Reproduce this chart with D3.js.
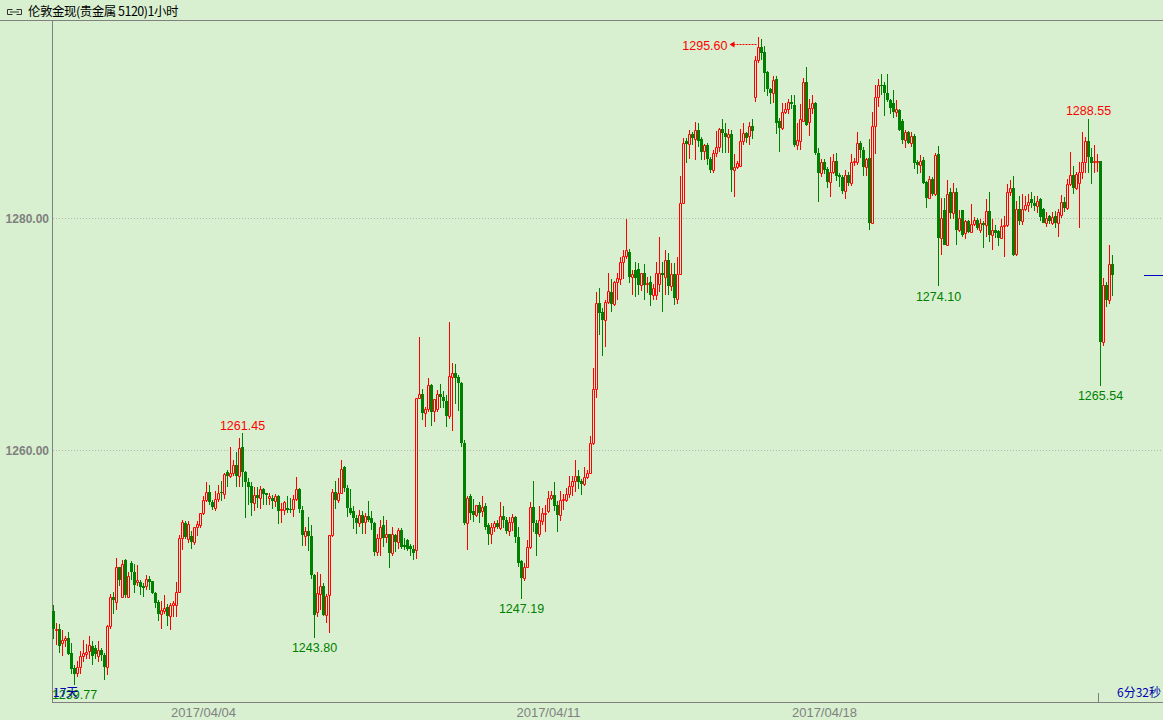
<!DOCTYPE html>
<html><head><meta charset="utf-8">
<script src="https://cdn.jsdelivr.net/npm/d3@7"></script>
<style>
html,body{margin:0;padding:0;background:#d8f0d0;overflow:hidden;}
svg{display:block;}
</style></head><body>
<svg id="chart" width="1163" height="720"></svg>
<script>
// ---------- DATA (1-hour OHLC, London Gold) ----------
const opens = [
1246.1,1244.5,1244.6,1243.4,1243.6,1243.8,1242.5,1241.2,1240.8,1241.3,
1242.2,1242.4,1242.7,1243.1,1242.9,1242.2,1242.8,1242.3,1241.3,1244.8,
1247.3,1246.9,1249.9,1247.3,1250.5,1247.3,1250.3,1249.5,1248.6,1248.6,
1248.3,1248.3,1248.9,1248.7,1247.7,1246.9,1245.9,1246.1,1246.5,1245.7,
1246.6,1246.6,1247.8,1252.4,1253.7,1252.3,1252.6,1252.1,1253.4,
1253.5,1254.6,1255.7,1256.4,1255.5,1255.0,1255.8,1256.4,1256.2,1258.1,
1257.8,1258.0,1258.7,1257.8,1260.3,1258.1,1257.2,1256.9,1255.4,1256.1,
1255.9,1256.6,1256.3,1255.9,1255.9,1255.6,1256.0,1254.8,1254.8,1255.0,
1254.9,1254.9,1255.8,1256.6,1254.8,1252.6,1253.0,1252.6,1249.2,1246.0,
1247.6,1248.3,1245.8,1247.5,1252.7,1256.4,1255.7,1256.3,1258.5,
1256.7,1255.0,1254.7,1254.1,1253.7,1254.4,1253.8,1254.3,1254.1,1253.7,
1251.2,1252.4,1253.5,1252.5,1252.8,1251.1,1252.7,1252.1,1253.1,1251.8,
1252.2,1251.7,1251.5,1251.4,1264.5,1264.8,1263.2,1263.5,1265.6,1263.4,
1263.5,1264.8,1264.6,1264.2,1262.9,1266.3,1266.6,1266.3,1265.8,1260.6,
1253.7,1256.0,1254.7,1254.4,1255.3,1254.7,1255.2,1253.5,
1252.8,1253.4,1253.7,1253.3,1254.3,1254.0,1253.0,1253.8,1254.2,1252.5,
1250.4,1249.0,1249.9,1251.6,1255.1,1253.7,1252.8,1253.9,1254.5,1254.7,
1255.9,1256.1,1255.3,1254.4,1255.7,1255.7,1256.2,1256.9,1257.3,1257.8,
1257.3,1257.1,1257.7,1258.0,1260.6,1265.3,1272.7,1271.9,1271.2,1272.8,
1273.6,1272.6,1274.5,1274.7,1276.2,1276.7,1277.1,
1274.9,1275.5,1275.6,1274.2,1275.3,1274.3,1274.5,1273.4,1273.4,1274.3,
1275.3,1274.9,1276.4,1274.1,1275.2,1273.0,1275.2,1281.3,1286.6,1286.4,
1287.2,1286.8,1287.6,1286.8,1285.8,1286.3,1285.1,1284.1,1285.6,1286.1,
1287.7,1287.3,1287.0,1287.2,1284.1,1284.4,1284.5,1286.6,1287.3,1287.1,
1287.9,1290.4,1293.6,1294.7,1294.3,1292.6,
1291.1,1290.8,1292.0,1288.4,1287.8,1289.1,1289.4,1290.0,1289.7,1286.3,
1286.6,1288.4,1291.7,1288.3,1289.5,1289.9,1285.6,1283.9,1284.8,1284.2,
1283.1,1284.0,1284.9,1283.7,1283.5,1282.3,1283.7,1283.0,1284.8,1284.8,
1286.5,1285.9,1284.4,1285.2,1279.6,1287.9,1290.4,1291.5,1291.5,1290.8,
1290.2,1289.9,1289.1,1289.3,1288.4,1286.7,1287.4,
1286.5,1287.1,1284.8,1284.6,1285.0,1283.1,1281.7,1283.4,1282.1,1285.5,
1278.3,1280.7,1277.7,1282.2,1280.4,1282.2,1279.0,1280.7,1278.7,1279.7,
1278.8,1279.5,1279.8,1279.0,1279.6,1279.4,1280.6,1278.5,1279.0,1278.9,
1278.3,1279.3,1279.4,1282.2,1282.6,1276.9,1280.8,1279.7,1280.8,1281.1,
1281.6,1281.3,1281.0,1281.6,1280.8,1279.6,1280.2,
1279.6,1280.2,1279.6,1280.3,1281.4,1280.9,1282.9,1283.7,1282.6,1283.0,
1284.0,1284.8,1286.6,1285.3,1284.8,1284.8,1284.9,1269.3,1274.2,1272.9,1276.0
];
const highs = [
1246.6,1245.1,1245.0,1244.5,1244.0,1244.3,1243.4,1241.5,1241.8,1242.7,
1243.6,1243.3,1244.0,1243.5,1243.2,1243.5,1242.9,1242.5,1244.9,1247.6,
1247.8,1250.7,1249.9,1250.5,1250.6,1249.5,1250.4,1250.2,1250.1,1248.8,
1248.5,1249.2,1249.1,1248.7,1247.8,1247.1,1247.0,1247.5,1246.7,1246.8,
1247.0,1248.6,1252.7,1254.0,1253.9,1253.9,1253.0,1253.4,1253.9,
1254.6,1256.0,1257.2,1257.0,1255.7,1256.5,1257.0,1257.3,1258.0,1258.3,
1260.3,1259.1,1259.8,1261.0,1261.45,1258.2,1257.6,1257.2,1256.8,1256.8,
1256.9,1256.7,1256.3,1256.3,1256.1,1256.2,1256.1,1255.4,1255.6,1256.0,
1255.9,1256.1,1257.7,1256.7,1255.2,1253.4,1254.2,1253.5,1249.3,1249.5,
1249.3,1248.5,1247.6,1252.7,1256.6,1257.3,1257.6,1259.1,1258.6,
1257.0,1256.6,1255.2,1254.4,1254.8,1254.7,1254.6,1255.6,1254.7,1253.8,
1252.8,1254.0,1254.3,1254.0,1252.8,1253.4,1252.8,1253.3,1253.3,1252.4,
1252.3,1251.9,1251.8,1264.5,1269.7,1265.3,1263.7,1266.2,1265.7,1264.4,
1265.2,1265.7,1265.1,1264.7,1271.0,1267.5,1267.4,1266.5,1265.9,1260.9,
1256.0,1256.2,1255.8,1255.3,1255.5,1256.0,1255.4,1253.7,
1253.7,1253.9,1254.0,1255.5,1255.2,1254.2,1254.2,1254.5,1254.3,1253.4,
1250.5,1250.3,1252.2,1255.5,1257.3,1254.0,1255.2,1255.0,1255.3,1256.5,
1256.5,1257.2,1255.6,1256.5,1256.2,1256.7,1257.8,1257.8,1259.1,1258.3,
1257.5,1258.5,1258.3,1261.2,1267.1,1273.6,1274.0,1272.2,1272.9,1275.3,
1274.7,1274.6,1275.3,1276.6,1277.2,1279.9,1277.3,
1275.5,1276.2,1276.1,1275.3,1276.0,1274.9,1275.0,1274.3,1276.2,1278.4,
1276.2,1277.2,1277.0,1276.1,1276.1,1276.6,1283.6,1286.9,1286.9,1287.6,
1287.4,1288.3,1288.2,1287.0,1286.4,1286.5,1285.3,1285.9,1287.5,1287.8,
1288.5,1288.2,1287.7,1287.6,1285.5,1284.9,1287.7,1288.2,1287.4,1288.3,
1288.5,1294.0,1295.60,1295.4,1294.8,1292.7,
1291.2,1292.2,1292.2,1288.6,1289.9,1289.9,1290.3,1290.6,1290.6,1288.2,
1289.8,1292.1,1293.0,1290.3,1290.6,1290.0,1286.0,1285.1,1285.1,1284.4,
1285.3,1285.5,1285.6,1283.9,1283.7,1284.1,1284.0,1285.5,1285.2,1287.4,
1286.6,1286.1,1285.2,1286.8,1289.1,1291.5,1292.0,1292.4,1291.7,1292.4,
1290.3,1291.0,1290.2,1289.4,1288.5,1287.6,1287.5,
1287.4,1287.2,1285.0,1285.4,1285.3,1283.2,1283.6,1283.5,1285.6,1286.2,
1281.7,1281.7,1283.3,1282.6,1283.0,1282.6,1280.7,1280.7,1279.8,1279.8,
1281.2,1280.1,1280.0,1279.9,1279.7,1281.6,1282.2,1279.9,1279.4,1279.0,
1279.9,1280.2,1282.9,1283.3,1283.6,1281.5,1281.9,1282.1,1281.9,1282.1,
1282.2,1281.9,1281.9,1281.7,1280.9,1280.5,1280.3,
1280.5,1280.6,1280.8,1282.0,1281.8,1283.4,1285.7,1284.5,1284.0,1284.8,
1287.4,1287.0,1288.55,1286.0,1286.3,1285.5,1284.9,1274.8,1274.5,1277.7,1276.8
];
const lows = [
1243.7,1243.2,1242.5,1242.2,1243.0,1242.3,1240.7,1239.77,1240.4,1240.7,
1241.7,1242.0,1242.0,1241.5,1242.0,1241.7,1241.8,1240.2,1240.6,1244.6,
1245.9,1246.2,1248.3,1247.2,1247.2,1247.2,1248.8,1247.7,1248.3,1247.5,
1247.3,1247.9,1247.9,1247.6,1246.4,1245.3,1244.6,1245.9,1244.8,1244.5,
1245.6,1245.6,1247.8,1251.4,1252.3,1252.0,1251.5,1251.8,1252.6,
1253.3,1254.4,1255.5,1255.3,1254.8,1254.7,1255.5,1255.6,1255.8,1256.8,
1257.6,1257.8,1256.8,1256.8,1256.8,1254.1,1255.3,1254.3,1254.7,1255.0,
1254.9,1255.3,1255.3,1255.3,1254.9,1255.1,1253.6,1253.7,1254.4,1254.6,
1254.6,1254.2,1255.6,1254.6,1251.7,1251.7,1251.3,1248.9,1243.80,1245.6,
1246.2,1245.7,1245.1,1244.2,1252.5,1254.9,1255.4,1256.2,1256.4,
1254.2,1254.4,1253.2,1252.8,1253.4,1252.8,1252.8,1253.8,1253.1,1250.9,
1250.9,1250.9,1251.6,1252.0,1249.8,1250.9,1251.2,1251.5,1251.5,1251.4,
1251.3,1250.9,1250.5,1250.6,1264.4,1262.6,1262.0,1263.3,1262.1,1262.4,
1263.3,1263.6,1263.6,1262.0,1262.7,1261.6,1264.0,1263.4,1260.3,1253.5,
1251.4,1254.0,1253.8,1254.2,1253.7,1254.2,1253.1,1251.8,
1251.9,1252.9,1253.2,1253.1,1253.3,1252.8,1252.6,1253.0,1252.0,1249.9,
1247.19,1248.7,1249.8,1251.5,1252.9,1250.9,1252.5,1253.5,1252.9,1254.6,
1255.7,1254.7,1252.9,1253.9,1254.8,1255.5,1255.9,1256.0,1256.4,1256.6,
1256.1,1256.9,1257.5,1257.9,1260.4,1264.5,1269.9,1268.1,1268.9,1272.6,
1271.9,1272.4,1272.9,1274.2,1274.7,1276.5,1274.4,
1273.4,1273.2,1273.4,1273.7,1272.9,1273.5,1272.4,1272.9,1272.9,1273.6,
1271.9,1273.4,1273.4,1273.7,1272.5,1272.6,1275.1,1281.2,1284.7,1285.1,
1286.3,1285.0,1286.1,1285.0,1285.0,1284.6,1283.9,1283.9,1285.3,1285.7,
1285.6,1285.6,1285.6,1282.2,1281.8,1284.2,1284.4,1286.3,1286.5,1286.3,
1286.8,1290.0,1293.4,1293.6,1290.9,1290.5,
1289.8,1289.9,1287.2,1285.7,1287.6,1289.0,1289.0,1289.4,1286.1,1285.9,
1285.9,1288.3,1287.9,1287.1,1289.0,1285.4,1281.4,1283.5,1283.8,1282.6,
1281.8,1283.8,1283.2,1282.7,1282.1,1281.6,1282.8,1282.8,1284.5,1284.6,
1285.2,1283.6,1283.6,1279.0,1279.5,1285.5,1289.6,1290.6,1288.8,1290.0,
1289.0,1288.6,1288.7,1287.5,1286.4,1286.0,1286.4,
1286.1,1284.2,1283.8,1283.9,1282.9,1280.9,1281.6,1281.9,1281.9,1274.10,
1276.8,1277.7,1277.7,1279.9,1279.9,1277.7,1278.8,1278.4,1278.2,1278.7,
1278.7,1279.3,1279.0,1278.7,1277.4,1278.4,1277.9,1277.2,1278.3,1277.6,
1278.2,1276.6,1279.2,1281.9,1276.7,1276.7,1279.4,1279.4,1280.6,1280.5,
1280.9,1280.6,1280.4,1279.7,1279.6,1279.2,1279.5,
1279.4,1279.1,1278.4,1280.0,1280.5,1280.7,1282.8,1282.1,1282.4,1279.1,
1283.4,1283.9,1283.9,1282.9,1283.9,1284.0,1265.54,1269.0,1272.3,1272.6,1273.3
];
const closes = [
1244.6,1244.6,1243.1,1243.6,1243.8,1242.4,1241.1,1240.7,1241.3,1242.2,
1242.5,1242.6,1243.2,1242.2,1242.4,1242.8,1242.3,1241.3,1244.8,1247.3,
1247.1,1249.9,1248.8,1250.2,1247.5,1249.1,1249.5,1248.4,1248.8,1248.2,
1248.1,1248.9,1248.6,1247.7,1246.8,1245.9,1246.2,1246.4,1245.7,1246.6,
1246.8,1247.8,1252.4,1253.8,1252.5,1253.6,1252.1,1253.4,1253.6,
1254.6,1255.7,1256.4,1255.5,1255.1,1255.8,1256.3,1256.3,1257.9,1257.8,
1258.0,1258.7,1257.8,1260.2,1258.1,1257.2,1256.8,1255.4,1256.1,1255.9,
1256.6,1256.2,1256.1,1256.0,1255.6,1256.0,1254.7,1254.9,1255.5,1254.8,
1254.8,1255.8,1256.6,1254.9,1252.7,1253.0,1252.6,1249.2,1245.8,1247.7,
1248.3,1245.8,1247.4,1252.7,1256.4,1255.7,1256.3,1258.4,1256.7,
1255.0,1254.6,1254.1,1253.7,1254.4,1253.7,1254.3,1254.0,1253.7,1251.2,
1252.4,1253.4,1252.4,1252.8,1251.1,1252.8,1252.1,1253.1,1251.6,1251.6,
1251.5,1251.5,1251.1,1264.5,1264.8,1263.2,1263.5,1265.6,1263.3,1264.4,
1264.8,1264.6,1264.2,1262.9,1266.4,1266.6,1266.2,1265.8,1260.6,1253.7,
1255.9,1254.6,1254.4,1255.3,1254.6,1255.1,1253.4,1252.8,
1253.4,1253.7,1253.4,1254.3,1254.0,1253.0,1253.8,1254.2,1252.5,1250.3,
1249.0,1249.9,1251.6,1255.1,1253.7,1252.8,1254.0,1254.6,1254.6,1255.9,
1256.1,1255.2,1254.4,1255.7,1255.8,1256.2,1256.9,1257.3,1257.8,1257.2,
1257.1,1257.7,1258.0,1260.6,1265.3,1272.7,1271.8,1271.2,1272.8,1273.7,
1272.6,1274.5,1274.8,1276.2,1276.7,1277.2,1274.9,
1275.2,1274.8,1274.2,1275.3,1274.2,1274.4,1273.4,1274.0,1275.3,1275.3,
1275.1,1276.4,1274.1,1275.2,1273.1,1275.2,1281.3,1286.5,1286.4,1287.2,
1286.9,1287.6,1286.6,1285.7,1286.3,1285.1,1284.1,1285.6,1286.1,1287.7,
1287.3,1287.0,1287.2,1284.1,1284.4,1284.7,1286.6,1287.3,1286.9,1287.9,
1287.5,1293.6,1294.7,1294.2,1292.5,1291.1,
1290.8,1291.9,1288.2,1287.8,1289.1,1289.4,1290.0,1289.8,1286.3,1286.7,
1288.5,1291.7,1288.0,1289.5,1289.9,1285.6,1283.9,1284.8,1284.1,1283.1,
1284.0,1284.9,1283.6,1283.5,1282.3,1283.7,1283.0,1284.8,1284.9,1286.5,
1285.9,1284.4,1285.1,1279.6,1287.9,1290.4,1291.5,1291.4,1290.8,1290.2,
1289.5,1289.1,1289.4,1287.6,1286.7,1287.4,1286.5,
1287.1,1284.7,1284.6,1284.9,1283.0,1281.7,1283.4,1282.1,1285.4,1278.3,
1280.0,1277.7,1282.1,1280.4,1282.2,1279.0,1280.0,1278.5,1279.7,1278.8,
1279.5,1279.8,1279.1,1279.6,1279.4,1280.6,1278.5,1279.0,1278.7,1278.3,
1279.3,1279.4,1282.2,1282.6,1276.8,1280.8,1279.7,1280.8,1281.1,1281.4,
1281.3,1281.0,1281.5,1280.1,1279.6,1280.0,1279.7,
1280.1,1279.6,1280.5,1281.4,1280.9,1282.9,1283.7,1282.6,1283.8,1284.0,
1284.8,1286.6,1285.3,1284.7,1284.9,1284.9,1269.3,1274.2,1272.9,1276.0,1275.1
];
const dateLabels = ["2017/04/04", "2017/04/11", "2017/04/18"];
const dateIndex = [50, 165, 257];
const yTicks = [1260, 1280];
const highMarks = [1261.45, 1295.60, 1288.55];
const lowMarks = [1239.77, 1243.80, 1247.19, 1274.10, 1265.54];
const sessionMarks = [349];
const titleText = "伦敦金现(贵金属 5120)1小时";
const spanText = "17天";
const countdownText = "6分32秒";

// ---------- DRAW ----------
const W = 1163, H = 720;
const BG = "#d8f0d0", RED = "#ff0000", GREEN = "#008000", GRAY = "#808080", BLUE = "#0000b0";
const NUMFONT = "'Liberation Sans', Arial, sans-serif";
const CJKFONT = "'Noto Sans CJK SC', 'Liberation Sans', sans-serif";
const plot = {left: 52, top: 20, bottom: 702, right: W};

const svg = d3.select("#chart");
svg.append("rect").attr("width", W).attr("height", H).attr("fill", BG);

const n = closes.length;
const x = d3.scaleBand().domain(d3.range(n)).range([plot.left, plot.left + 3 * n]).padding(0);
const y = d3.scaleLinear().domain([1260, 1280]).range([450, 218]);
const cxOf = i => x(i) + x.bandwidth() / 2;

// grid lines + y labels
yTicks.forEach(t => {
  const yy = Math.round(y(t)) + 0.5;
  svg.append("line").attr("x1", plot.left + 1).attr("x2", W).attr("y1", yy).attr("y2", yy)
    .attr("stroke", "#b4b4b4").attr("stroke-dasharray", "1,2");
  svg.append("text").attr("x", 49).attr("y", yy + 4.5).attr("text-anchor", "end")
    .attr("font-family", NUMFONT).attr("font-size", 12).attr("font-weight", "bold")
    .attr("fill", GRAY).text(d3.format(".2f")(t));
});

// frame lines
svg.append("line").attr("x1", 0).attr("x2", W).attr("y1", plot.top + 0.5).attr("y2", plot.top + 0.5).attr("stroke", GRAY);
svg.append("line").attr("x1", plot.left + 0.5).attr("x2", plot.left + 0.5).attr("y1", plot.top).attr("y2", plot.bottom + 1).attr("stroke", GRAY);
svg.append("line").attr("x1", plot.left).attr("x2", W).attr("y1", plot.bottom + 0.5).attr("y2", plot.bottom + 0.5).attr("stroke", GRAY);

// candles
const data = d3.range(n).map(i => ({i, o: opens[i], h: highs[i], l: lows[i], c: closes[i]}));
const cg = svg.append("g").selectAll("g").data(data).join("g");
cg.each(function(d) {
  const g = d3.select(this);
  const cx = cxOf(d.i);
  const yh = Math.round(y(d.h)), yl = Math.round(y(d.l));
  const yt = Math.round(y(Math.max(d.o, d.c))), yb = Math.round(y(Math.min(d.o, d.c)));
  if (d.c >= d.o) {
    if (yh < yt) g.append("line").attr("x1", cx).attr("x2", cx).attr("y1", yh).attr("y2", yt).attr("stroke", RED);
    if (yl > yb) g.append("line").attr("x1", cx).attr("x2", cx).attr("y1", yb + 1).attr("y2", yl).attr("stroke", RED);
    const hh = Math.max(yb - yt, 0);
    g.append("path").attr("d", `M${cx - 1},${yt + 0.5}h2v${hh}h-2Z`)
      .attr("fill", BG).attr("stroke", RED);
  } else {
    g.append("line").attr("x1", cx).attr("x2", cx).attr("y1", yh).attr("y2", yl).attr("stroke", GREEN);
    g.append("rect").attr("x", x(d.i)).attr("y", yt).attr("width", x.bandwidth())
      .attr("height", Math.max(yb - yt, 1)).attr("fill", GREEN);
  }
});

// high labels
highMarks.forEach(v => {
  const i = highs.indexOf(v);
  const cx = cxOf(i), yy = y(v);
  if (yy - 24 < plot.top) {
    const ay = Math.round(yy) + 7.5;
    svg.append("line").attr("x1", cx - 2).attr("x2", cx - 26).attr("y1", ay).attr("y2", ay)
      .attr("stroke", RED).attr("stroke-dasharray", "2,1");
    svg.append("path").attr("d", `M${cx - 29},${ay} l5,-3 v6 Z`).attr("fill", RED);
    svg.append("text").attr("x", cx - 31).attr("y", ay + 5).attr("text-anchor", "end")
      .attr("font-family", NUMFONT).attr("font-size", 12.5).attr("fill", RED).text(v.toFixed(2));
  } else {
    svg.append("text").attr("x", cx).attr("y", yy - 3.5).attr("text-anchor", "middle")
      .attr("font-family", NUMFONT).attr("font-size", 12.5).attr("fill", RED).text(v.toFixed(2));
  }
});
// low labels
lowMarks.forEach(v => {
  const i = lows.indexOf(v);
  const cx = cxOf(i), yy = y(v);
  svg.append("text").attr("x", cx).attr("y", yy + 14.5).attr("text-anchor", "middle")
    .attr("font-family", NUMFONT).attr("font-size", 12.5).attr("fill", GREEN).text(v.toFixed(2));
});

// date labels
dateLabels.forEach((lab, k) => {
  svg.append("text").attr("x", cxOf(dateIndex[k])).attr("y", 717).attr("text-anchor", "middle")
    .attr("font-family", NUMFONT).attr("font-size", 13).attr("fill", GRAY).text(lab);
});

// session tick
sessionMarks.forEach(i => {
  svg.append("line").attr("x1", x(i) - 0.5).attr("x2", x(i) - 0.5).attr("y1", plot.bottom - 9).attr("y2", plot.bottom)
    .attr("stroke", GRAY);
});

// current price marker
const cy = Math.round(y(closes[n - 1])) + 0.5;
svg.append("line").attr("x1", W - 19).attr("x2", W).attr("y1", cy).attr("y2", cy).attr("stroke", "#0000cc");

// bottom texts (overlap with the low label as in the original)
svg.append("text").attr("x", 53).attr("y", 697).attr("font-family", CJKFONT).attr("font-size", 12)
  .attr("fill", BLUE).text(spanText);
svg.append("text").attr("x", 1161).attr("y", 697).attr("text-anchor", "end").attr("font-family", CJKFONT)
  .attr("font-size", 12).attr("fill", BLUE).text(countdownText);

// title
const ic = svg.append("g").attr("stroke", "#333").attr("fill", "none");
ic.append("path").attr("d", "M12.5,9.5H7.5V14.5H12.5");
ic.append("path").attr("d", "M16.5,9.5H21.5V14.5H16.5");
ic.append("path").attr("d", "M10,12H19");
svg.append("text").attr("x", 28).attr("y", 16).attr("font-family", CJKFONT).attr("font-size", 12.5)
  .attr("letter-spacing", -0.5).attr("fill", "#000").text(titleText);
</script>
</body></html>
